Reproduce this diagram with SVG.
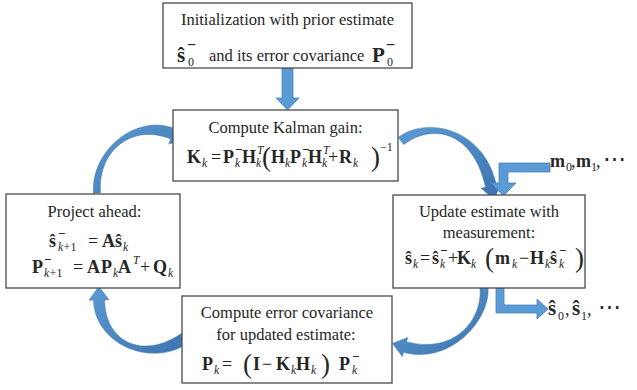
<svg xmlns="http://www.w3.org/2000/svg" width="637" height="390" viewBox="0 0 637 390" font-family="Liberation Serif, Times New Roman, serif">
  <defs>
    <linearGradient id="bandShade" x1="0" y1="0" x2="1" y2="1">
      <stop offset="0" stop-color="#5b9bd5"/>
      <stop offset="1" stop-color="#3d73ae"/>
    </linearGradient>
    <style>
      .box { fill: #ffffff; stroke: #4a4a4a; stroke-width: 1.3; }
      .txt { font-size: 16.5px; fill: #262626; }
      .cap { text-anchor: middle; }
      .mb { font-weight: bold; font-size: 18px; }
      .mr { font-size: 18px; }
      .big { font-size: 21px; font-weight: bold; }
      .sub { font-style: italic; font-size: 11.5px; }
      .subr { font-size: 12px; }
      .sup { font-weight: bold; font-size: 13px; }
      .supl { font-weight: bold; font-size: 16px; }
      .par { font-size: 27px; }
      .dots { font-size: 23px; }
      .band { fill: url(#bandShade); stroke: #3f74ad; stroke-width: 0.5; }
      .flat { fill: #5b9bd5; stroke: #4a80bb; stroke-width: 0.8; }
    </style>
  </defs>

  <!-- connectors -->
  <g id="connectors">
    <!-- initialization feeds the gain step -->
    <polygon class="flat" points="282,68 293,68 293,98 299,98 287.5,110 276,98 282,98"/>
    <!-- project ahead -> Kalman gain -->
    <path class="band" d="M93.5,193.2 C90.5,150.2 137.1,112.9 175.1,128.9 L177.3,123.9 L186,139.5 L168.7,144.1 L170.9,139.1 C132.9,123.1 97.5,149.8 100.5,192.8 Z"/>
    <!-- Kalman gain -> update -->
    <path class="band" d="M398.3,137.4 C425.3,116.4 483.4,126.8 496.4,184.8 L500.8,183.8 L494.1,199.7 L481.2,188.2 L485.6,187.2 C472.6,129.2 430.7,123.6 403.7,144.6 Z"/>
    <!-- update -> error covariance -->
    <path class="band" d="M488,286.6 C491,319.6 450.5,365.3 403.5,352.3 L402.3,356.6 L392.5,343.5 L407.7,337.4 L406.5,341.7 C453.5,354.7 483,320.4 480,287.4 Z"/>
    <!-- error covariance -> project ahead -->
    <path class="band" d="M191.6,340.8 C153.6,369.8 94.5,345.1 93.5,300.1 L89,300.2 L98.8,286.5 L109,299.8 L104.5,299.9 C105.5,344.9 146.4,360.2 184.4,331.2 Z"/>
    <!-- measurements in -->
    <polygon class="flat" points="550,163 499,163 499,183 491,183 503.5,196 516,183 508,183 508,172 550,172"/>
    <!-- estimates out -->
    <polygon class="flat" points="496,288 504,288 504,305 537,305 537,299 548,309 537,319 537,313 496,313"/>
  </g>

  <!-- initialization -->
  <g id="init">
    <rect class="box" x="163" y="3" width="249" height="65"/>
    <text class="txt cap" x="287.5" y="25">Initialization with prior estimate</text>
    <text class="txt"><tspan class="big" x="177" y="62">ŝ</tspan><tspan class="supl" x="187" y="50">−</tspan><tspan class="subr" x="188" y="66">0</tspan></text>
    <text class="txt" x="209" y="61">and its error covariance</text>
    <text class="txt"><tspan class="big" x="372" y="62">P</tspan><tspan class="supl" x="386" y="50">−</tspan><tspan class="subr" x="387" y="66">0</tspan></text>
  </g>

  <!-- Kalman gain -->
  <g id="gain">
    <rect class="box" x="173" y="110" width="225" height="71"/>
    <text class="txt cap" x="285.5" y="133">Compute Kalman gain:</text>
    <text class="txt"><tspan class="mb" x="187" y="163">K</tspan><tspan class="sub" x="202" y="167">k</tspan><tspan class="mr" x="211" y="163">=</tspan><tspan class="mb" x="223" y="163">P</tspan><tspan class="sup" x="235" y="154">−</tspan><tspan class="sub" x="235" y="167">k</tspan><tspan class="mb" x="242" y="163">H</tspan><tspan class="sub" x="257" y="154">T</tspan><tspan class="sub" x="256" y="167">k</tspan><tspan class="par" x="262" y="166">(</tspan><tspan class="mb" x="271" y="163">H</tspan><tspan class="sub" x="285" y="167">k</tspan><tspan class="mb" x="290" y="163">P</tspan><tspan class="sup" x="302" y="154">−</tspan><tspan class="sub" x="302" y="167">k</tspan><tspan class="mb" x="308" y="163">H</tspan><tspan class="sub" x="323" y="154">T</tspan><tspan class="sub" x="322" y="167">k</tspan><tspan class="mr" x="328" y="163">+</tspan><tspan class="mb" x="339" y="163">R</tspan><tspan class="sub" x="353" y="167">k</tspan><tspan class="par" x="371" y="166">)</tspan><tspan class="subr" x="380" y="151">−1</tspan></text>
  </g>

  <!-- project ahead -->
  <g id="project">
    <rect class="box" x="6" y="194" width="174" height="94"/>
    <text class="txt cap" x="94.5" y="217">Project ahead:</text>
    <text class="txt"><tspan class="mb" x="49" y="247">ŝ</tspan><tspan class="sup" x="58" y="238">−</tspan><tspan class="sub" x="58" y="251">k</tspan><tspan class="subr" dx="0.5">+1</tspan><tspan class="mr" x="88" y="247">=</tspan><tspan class="mb" x="102" y="247">A</tspan><tspan class="mb" x="115" y="247">ŝ</tspan><tspan class="sub" x="123" y="251">k</tspan></text>
    <text class="txt"><tspan class="mb" x="32" y="273">P</tspan><tspan class="sup" x="44" y="264">−</tspan><tspan class="sub" x="44" y="277">k</tspan><tspan class="subr" dx="0.5">+1</tspan><tspan class="mr" x="73" y="273">=</tspan><tspan class="mb" x="87" y="273">A</tspan><tspan class="mb" x="101" y="273">P</tspan><tspan class="sub" x="113" y="277">k</tspan><tspan class="mb" x="118" y="273">A</tspan><tspan class="sub" x="133" y="264">T</tspan><tspan class="mr" x="140" y="273">+</tspan><tspan class="mb" x="153" y="273">Q</tspan><tspan class="sub" x="168" y="277">k</tspan></text>
  </g>

  <!-- update estimate -->
  <g id="update">
    <rect class="box" x="393" y="195" width="192" height="93"/>
    <text class="txt cap" x="489" y="217">Update estimate with</text>
    <text class="txt cap" x="489" y="238">measurement:</text>
    <text class="txt"><tspan class="mb" x="405" y="264">ŝ</tspan><tspan class="sub" x="413" y="268">k</tspan><tspan class="mr" x="420" y="264">=</tspan><tspan class="mb" x="432" y="264">ŝ</tspan><tspan class="sup" x="440" y="255">−</tspan><tspan class="sub" x="440" y="268">k</tspan><tspan class="mr" x="448" y="264">+</tspan><tspan class="mb" x="457" y="264">K</tspan><tspan class="sub" x="471" y="268">k</tspan><tspan class="par" x="485" y="267">(</tspan><tspan class="mb" x="495" y="264">m</tspan><tspan class="sub" x="512" y="268">k</tspan><tspan class="mr" x="519" y="264">−</tspan><tspan class="mb" x="530" y="264">H</tspan><tspan class="sub" x="545" y="268">k</tspan><tspan class="mb" x="550" y="264">ŝ</tspan><tspan class="sup" x="559" y="255">−</tspan><tspan class="sub" x="559" y="268">k</tspan><tspan class="par" x="575" y="267">)</tspan></text>
  </g>

  <!-- error covariance -->
  <g id="covariance">
    <rect class="box" x="182" y="296" width="210" height="87"/>
    <text class="txt cap" x="287" y="318">Compute error covariance</text>
    <text class="txt cap" x="286" y="340">for updated estimate:</text>
    <text class="txt"><tspan class="mb" x="202" y="370">P</tspan><tspan class="sub" x="214" y="374">k</tspan><tspan class="mr" x="222" y="370">=</tspan><tspan class="par" x="243" y="373">(</tspan><tspan class="mb" x="253" y="370">I</tspan><tspan class="mr" x="262" y="370">−</tspan><tspan class="mb" x="276" y="370">K</tspan><tspan class="sub" x="291" y="374">k</tspan><tspan class="mb" x="296" y="370">H</tspan><tspan class="sub" x="311" y="374">k</tspan><tspan class="par" x="321" y="373">)</tspan><tspan class="mb" x="339" y="370">P</tspan><tspan class="sup" x="352" y="361">−</tspan><tspan class="sub" x="352" y="374">k</tspan></text>
  </g>

  <!-- measurement stream -->
  <g id="measurements">
    <text class="txt"><tspan class="mb" x="550" y="167">m</tspan><tspan class="subr" x="566" y="171">0</tspan><tspan class="mr" x="571" y="167">,</tspan><tspan class="mb" x="576" y="167">m</tspan><tspan class="subr" x="591" y="171">1</tspan><tspan class="mr" x="596" y="167">,</tspan><tspan class="dots" x="603" y="166">⋯</tspan></text>
  </g>

  <!-- estimate stream -->
  <g id="estimates">
    <text class="txt"><tspan class="big" x="548" y="315">ŝ</tspan><tspan class="subr" x="558" y="320">0</tspan><tspan class="mr" x="565" y="315">,</tspan><tspan class="big" x="572" y="315">ŝ</tspan><tspan class="subr" x="581" y="320">1</tspan><tspan class="mr" x="587" y="315">,</tspan><tspan class="dots" x="598" y="314">⋯</tspan></text>
  </g>
</svg>
